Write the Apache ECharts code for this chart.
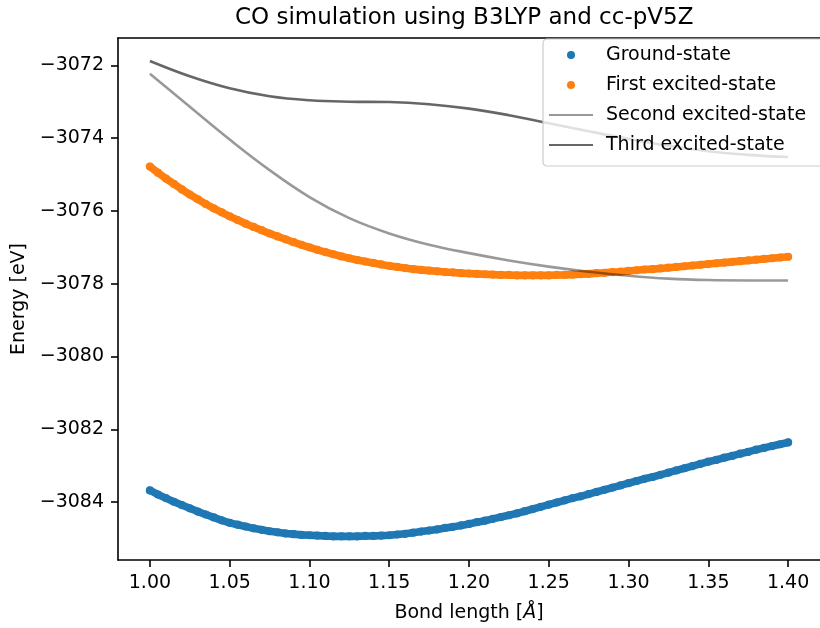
<!DOCTYPE html>
<html>
<head>
<meta charset="utf-8">
<script src="https://cdn.jsdelivr.net/npm/echarts@6/dist/echarts.min.js"></script>
<style>html,body{margin:0;padding:0;background:#fff}#chart{width:820px;height:628px}</style>
</head>
<body>
<div id="chart"></div>
<script>
// Bond lengths (Å) for the dotted series
const bondFine = [1.000,1.005,1.010,1.015,1.020,1.025,1.030,1.035,1.040,1.045,
  1.050,1.055,1.060,1.065,1.070,1.075,1.080,1.085,1.090,1.095,
  1.100,1.105,1.110,1.115,1.120,1.125,1.130,1.135,1.140,1.145,
  1.150,1.155,1.160,1.165,1.170,1.175,1.180,1.185,1.190,1.195,
  1.200,1.205,1.210,1.215,1.220,1.225,1.230,1.235,1.240,1.245,
  1.250,1.255,1.260,1.265,1.270,1.275,1.280,1.285,1.290,1.295,
  1.300,1.305,1.310,1.315,1.320,1.325,1.330,1.335,1.340,1.345,
  1.350,1.355,1.360,1.365,1.370,1.375,1.380,1.385,1.390,1.395,1.400];
const groundState = [-3083.68,-3083.79,-3083.89,-3083.99,-3084.08,-3084.17,-3084.26,-3084.34,-3084.42,-3084.50,
  -3084.57,-3084.62,-3084.67,-3084.72,-3084.76,-3084.80,-3084.83,-3084.86,-3084.88,-3084.90,
  -3084.91,-3084.92,-3084.93,-3084.94,-3084.94,-3084.94,-3084.94,-3084.93,-3084.93,-3084.92,
  -3084.91,-3084.89,-3084.87,-3084.84,-3084.81,-3084.78,-3084.75,-3084.71,-3084.68,-3084.64,
  -3084.60,-3084.55,-3084.51,-3084.46,-3084.41,-3084.36,-3084.31,-3084.25,-3084.19,-3084.13,
  -3084.07,-3084.01,-3083.95,-3083.89,-3083.84,-3083.78,-3083.72,-3083.66,-3083.60,-3083.54,
  -3083.48,-3083.42,-3083.36,-3083.31,-3083.25,-3083.19,-3083.13,-3083.07,-3083.01,-3082.95,
  -3082.89,-3082.84,-3082.78,-3082.73,-3082.67,-3082.62,-3082.56,-3082.51,-3082.46,-3082.41,-3082.36];
const firstExcited = [-3074.78,-3074.95,-3075.11,-3075.26,-3075.41,-3075.55,-3075.68,-3075.81,-3075.93,-3076.04,
  -3076.15,-3076.25,-3076.35,-3076.44,-3076.53,-3076.62,-3076.70,-3076.78,-3076.86,-3076.93,
  -3077.00,-3077.07,-3077.13,-3077.19,-3077.25,-3077.30,-3077.35,-3077.39,-3077.43,-3077.47,
  -3077.51,-3077.54,-3077.57,-3077.60,-3077.62,-3077.64,-3077.66,-3077.68,-3077.69,-3077.71,
  -3077.72,-3077.73,-3077.74,-3077.75,-3077.76,-3077.76,-3077.77,-3077.77,-3077.77,-3077.77,
  -3077.77,-3077.76,-3077.76,-3077.75,-3077.74,-3077.73,-3077.71,-3077.70,-3077.68,-3077.67,
  -3077.65,-3077.63,-3077.61,-3077.60,-3077.58,-3077.56,-3077.54,-3077.52,-3077.50,-3077.48,
  -3077.46,-3077.44,-3077.42,-3077.40,-3077.38,-3077.36,-3077.34,-3077.32,-3077.30,-3077.28,-3077.26];
// Bond lengths for the line series
const bondCoarse = [1.000,1.025,1.050,1.075,1.100,1.125,1.150,1.175,1.200,1.225,1.250,1.275,1.300,1.325,1.350,1.375,1.400];
const secondExcited = [-3072.23,-3073.14,-3074.04,-3074.88,-3075.62,-3076.20,-3076.62,-3076.93,-3077.16,-3077.36,-3077.53,-3077.67,-3077.78,-3077.86,-3077.90,-3077.91,-3077.91];
const thirdExcited = [-3071.88,-3072.30,-3072.63,-3072.85,-3072.96,-3073.00,-3073.01,-3073.07,-3073.19,-3073.37,-3073.59,-3073.81,-3074.02,-3074.21,-3074.36,-3074.46,-3074.52];

const xTicks = [1.00,1.05,1.10,1.15,1.20,1.25,1.30,1.35,1.40];
const yTicks = [-3084,-3082,-3080,-3078,-3076,-3074,-3072];
const seriesNames = ['Ground-state','First excited-state','Second excited-state','Third excited-state'];

const FONT = 'DejaVu Sans';
const BLUE = '#1f77b4', ORANGE = '#ff7f0e';
const X_MIN = 0.98, X_MAX = 1.42;
const chart = echarts.init(document.getElementById('chart'), null, {renderer:'canvas'});
const pairs = (xs, ys) => xs.map((x, i) => [x, ys[i]]);

// dense-dot band: a thick line under the dots so the markers read as a continuous band
const band = (ys, color) => ({type: 'line', data: pairs(bondFine, ys), symbol: 'none', showSymbol: false,
  silent: true, lineStyle: {color: color, width: 7.6, cap: 'round', join: 'round'}});

chart.setOption({
  animation: false,
  backgroundColor: '#fff',
  title: {
    text: 'CO simulation using B3LYP and cc-pV5Z',
    left: 235, top: 7, padding: 0,
    textStyle: {fontFamily: FONT, fontSize: 23, fontWeight: 'normal', color: '#000'}
  },
  grid: {left: 118, right: -1, top: 38, bottom: 66, show: false},
  legend: {
    orient: 'vertical', left: 543, top: 39, z: 10,
    padding: [6, 40, 11, 5],
    itemWidth: 44, itemHeight: 8, itemGap: 10,
    backgroundColor: 'rgba(255,255,255,0.8)', borderColor: '#cccccc', borderWidth: 1.2, borderRadius: 4,
    textStyle: {fontFamily: FONT, fontSize: 19, color: '#000', lineHeight: 20, padding: [0, 0, 0, 8]},
    data: [
      {name: seriesNames[0], icon: 'circle'},
      {name: seriesNames[1], icon: 'circle'},
      {name: seriesNames[2], itemStyle: {opacity: 0}},
      {name: seriesNames[3], itemStyle: {opacity: 0}}
    ]
  },
  xAxis: [{
    type: 'value', min: X_MIN, max: X_MAX,
    name: 'Bond length [{i|Å}]', nameLocation: 'middle', nameGap: 44,
    nameTextStyle: {fontFamily: FONT, fontSize: 19, color: '#000',
      rich: {i: {fontFamily: FONT, fontSize: 19, fontStyle: 'italic', color: '#000'}}},
    splitLine: {show: false},
    axisLine: {show: true, onZero: false, lineStyle: {color: '#000', width: 1.6}},
    axisTick: {show: true, inside: false, length: 7, lineStyle: {color: '#000', width: 1.6}, customValues: xTicks},
    axisLabel: {fontFamily: FONT, fontSize: 19, color: '#000', margin: 14, customValues: xTicks,
      formatter: v => Number(v).toFixed(2)}
  }, {
    // top spine only
    type: 'value', position: 'top', min: X_MIN, max: X_MAX,
    splitLine: {show: false}, axisTick: {show: false}, axisLabel: {show: false},
    axisLine: {show: true, onZero: false, lineStyle: {color: '#000', width: 1.6}}
  }],
  yAxis: {
    type: 'value', min: -3085.59, max: -3071.25,
    name: 'Energy [eV]', nameLocation: 'middle', nameGap: 88, nameRotate: 90,
    nameTextStyle: {fontFamily: FONT, fontSize: 19, color: '#000'},
    splitLine: {show: false},
    axisLine: {show: true, onZero: false, lineStyle: {color: '#000', width: 1.6}},
    axisTick: {show: true, inside: false, length: 7, lineStyle: {color: '#000', width: 1.6}, customValues: yTicks},
    axisLabel: {fontFamily: FONT, fontSize: 19, color: '#000', margin: 14, customValues: yTicks,
      formatter: v => (v < 0 ? '\u2212' : '') + Math.abs(Math.round(v))}
  },
  series: [
    band(groundState, BLUE),
    {name: seriesNames[0], type: 'scatter', data: pairs(bondFine, groundState), symbol: 'circle', symbolSize: 8.2,
      itemStyle: {color: BLUE, opacity: 1}},
    band(firstExcited, ORANGE),
    {name: seriesNames[1], type: 'scatter', data: pairs(bondFine, firstExcited), symbol: 'circle', symbolSize: 8.2,
      itemStyle: {color: ORANGE, opacity: 1}},
    {name: seriesNames[2], type: 'line', data: pairs(bondCoarse, secondExcited), symbol: 'none', showSymbol: false, smooth: 0.4,
      lineStyle: {color: 'rgba(0,0,0,0.4)', width: 2.6}, itemStyle: {color: 'rgba(0,0,0,0.4)'}},
    {name: seriesNames[3], type: 'line', data: pairs(bondCoarse, thirdExcited), symbol: 'none', showSymbol: false, smooth: 0.4,
      lineStyle: {color: 'rgba(0,0,0,0.6)', width: 2.6}, itemStyle: {color: 'rgba(0,0,0,0.6)'}}
  ]
});
</script>
</body>
</html>
